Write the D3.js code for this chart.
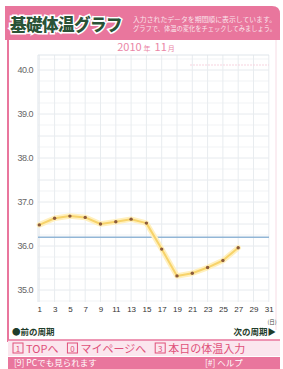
<!DOCTYPE html>
<html><head><meta charset="utf-8">
<script src="https://cdn.jsdelivr.net/npm/d3@7/dist/d3.min.js"></script>
<style>
html,body{margin:0;padding:0;background:#fff;}
svg{display:block;font-family:"Noto Sans CJK JP","Noto Sans",sans-serif;}
</style></head>
<body>
<script>
const days = [1,3,5,7,9,11,13,15,17,19,21,23,25,27];
const temps = [36.48,36.63,36.68,36.65,36.50,36.55,36.61,36.52,35.93,35.32,35.38,35.51,35.67,35.96];
const yTicks = [35.0,36.0,37.0,38.0,39.0,40.0];
const xTicks = [1,3,5,7,9,11,13,15,17,19,21,23,25,27,29,31];
const coverLine = 36.2;
const titleText = "基礎体温グラフ";
const subText = ["入力されたデータを期間順に表示しています。", "グラフで、体温の変化をチェックしてみましょう。"];
const monthText = ["2010","年","11","月"];
const navLinks = [["1","TOPへ"],["0","マイページへ"],["3","本日の体温入力"]];

(function(){
const W=283,H=369;
const svg=d3.select("body").append("svg").attr("width",W).attr("height",H);

const pink="#e9769d";
svg.append("path").attr("d","M5,6 H272 Q280,6 280,14 V40 H5 Z").attr("fill",pink);
svg.append("text").attr("x",10).attr("y",31).text(titleText)
  .attr("font-size",16.5).attr("font-weight",900).attr("fill","#2a5236")
  .attr("stroke","#fff").attr("stroke-width",3).attr("paint-order","stroke").attr("letter-spacing",-0.5);
subText.forEach((t,i)=>svg.append("text").attr("x",133).attr("y",22+i*9).text(t)
  .attr("font-size",6.3).attr("fill","#fff").attr("opacity",0.8).attr("textLength",143).attr("lengthAdjust","spacingAndGlyphs"));

svg.append("line").attr("x1",8).attr("x2",8).attr("y1",40).attr("y2",342).attr("stroke",pink).attr("stroke-width",2);
svg.append("line").attr("x1",276).attr("x2",276).attr("y1",40).attr("y2",330).attr("stroke","#f6dbe4").attr("stroke-width",1);

const mt=svg.append("text").attr("x",146).attr("y",51).attr("text-anchor","middle").attr("fill","#ea86a6");
mt.append("tspan").text(monthText[0]).attr("font-size",11);
mt.append("tspan").text(monthText[1]).attr("font-size",7).attr("dx",2);
mt.append("tspan").text(monthText[2]).attr("font-size",11).attr("dx",4);
mt.append("tspan").text(monthText[3]).attr("font-size",7).attr("dx",1);

const x=d3.scaleLinear().domain([1,31]).range([39.3,268.8]);
const y=d3.scaleLinear().domain([35,40]).range([290,70]);
const pL=38,pR=269,pT=55,pB=302;

const g=svg.append("g");
d3.range(34.75,40.3,0.25).forEach(v=>{
  const major=Math.abs(v*2-Math.round(v*2))<1e-6;
  g.append("line").attr("x1",pL).attr("x2",pR).attr("y1",y(v)).attr("y2",y(v))
   .attr("stroke",major?"#e6eaee":"#f1f3f5").attr("stroke-width",1);
});
xTicks.forEach(d=>g.append("line").attr("x1",x(d)).attr("x2",x(d)).attr("y1",pT).attr("y2",pB)
  .attr("stroke","#e8ecef").attr("stroke-width",1));
g.append("line").attr("x1",pL).attr("x2",pR).attr("y1",pT).attr("y2",pT).attr("stroke","#dfe5ea");
g.append("line").attr("x1",pL).attr("x2",pL).attr("y1",pT).attr("y2",pB).attr("stroke","#dfe5ea");
g.append("line").attr("x1",190).attr("x2",pR).attr("y1",65).attr("y2",65).attr("stroke","#f7d3df").attr("stroke-dasharray","2,1");

const ya=d3.axisLeft(y).tickValues(yTicks).tickFormat(d3.format(".1f")).tickSize(0).tickPadding(4);
const yg=svg.append("g").attr("transform",`translate(${pL-1},0)`).call(ya);
yg.select(".domain").remove();
yg.selectAll("text").attr("font-size",9).attr("fill","#666").attr("font-family","Liberation Sans Narrow, Liberation Sans, sans-serif").attr("letter-spacing",-0.5);

const xa=d3.axisBottom(x).tickValues(xTicks).tickSize(0).tickPadding(0);
const xg=svg.append("g").attr("transform",`translate(0,306)`).call(xa);
xg.select(".domain").remove();
xg.selectAll("text").attr("font-size",8).attr("fill","#333").attr("font-family","Liberation Sans Narrow, Liberation Sans, sans-serif");

svg.append("line").attr("x1",pL).attr("x2",pR).attr("y1",y(coverLine)).attr("y2",y(coverLine))
  .attr("stroke","#92b6d6").attr("stroke-width",1.6);

const pts=days.map((d,i)=>[x(d),y(temps[i])]);
const line=d3.line();
svg.append("path").attr("d",line(pts)).attr("fill","none").attr("stroke","#fff0bf").attr("stroke-width",5.5).attr("stroke-linejoin","round").attr("stroke-linecap","round");
svg.append("path").attr("d",line(pts)).attr("fill","none").attr("stroke","#f7d36a").attr("stroke-width",2).attr("stroke-linejoin","round");
svg.selectAll("circle.p").data(pts).enter().append("circle").attr("cx",d=>d[0]).attr("cy",d=>d[1]).attr("r",1.7).attr("fill","#8b5a3c");

svg.append("text").attr("x",272).attr("y",324).attr("text-anchor","middle").attr("font-size",5.5).attr("fill","#444").text("(日)");
svg.append("text").attr("x",12).attr("y",335).attr("font-size",8.5).attr("fill","#1f3d2c").attr("font-weight",700).text("●前の周期");
svg.append("text").attr("x",276).attr("y",335).attr("text-anchor","end").attr("font-size",8.5).attr("fill","#1f3d2c").attr("font-weight",700).text("次の周期▶");

svg.append("rect").attr("x",8).attr("y",340).attr("width",272).attr("height",16).attr("fill","#fbe6ee");
svg.append("line").attr("x1",8).attr("x2",280).attr("y1",340).attr("y2",340).attr("stroke",pink).attr("stroke-width",1.5);
let nx=13;
navLinks.forEach(([k,t])=>{
  svg.append("rect").attr("x",nx).attr("y",343).attr("width",10).attr("height",10).attr("fill","none").attr("stroke","#e0507a").attr("stroke-width",1);
  svg.append("text").attr("x",nx+5).attr("y",351.5).attr("text-anchor","middle").attr("font-size",8).attr("fill","#e0507a").text(k);
  const tt=svg.append("text").attr("x",nx+13).attr("y",352.5).attr("font-size",11).attr("fill","#e0507a").text(t);
  nx+=13+tt.node().getComputedTextLength()+9;
});
svg.append("rect").attr("x",8).attr("y",357).attr("width",272).attr("height",12).attr("fill",pink);
svg.append("text").attr("x",14).attr("y",366).attr("font-size",8.5).attr("fill","#fff").text("[9] PCでも見られます");
svg.append("text").attr("x",205).attr("y",366).attr("font-size",8.5).attr("fill","#fff").text("[#] ヘルプ");
})();
</script>
</body></html>
